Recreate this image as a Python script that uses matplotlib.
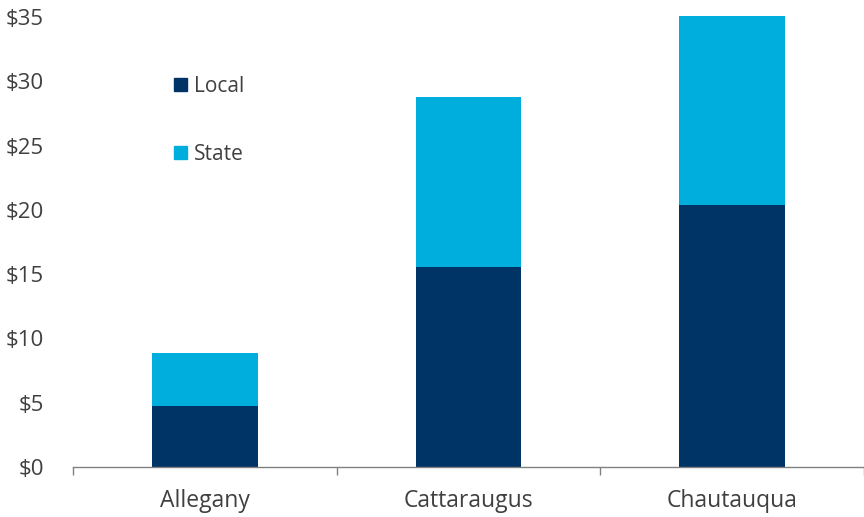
import matplotlib
matplotlib.use("Agg")
import matplotlib.pyplot as plt
from matplotlib.patches import Patch

categories = ["Allegany", "Cattaraugus", "Chautauqua"]
local = [4.75, 15.55, 20.4]
state = [4.1, 13.2, 14.7]
yticks = [0, 5, 10, 15, 20, 25, 30, 35]
ytick_labels = ["$0", "$5", "$10", "$15", "$20", "$25", "$30", "$35"]

plt.rcParams['font.family'] = ['Open Sans', 'DejaVu Sans']
txt = '#404040'
c_local = '#003366'
c_state = '#00AEDE'

fig = plt.figure(figsize=(8.64, 5.17), dpi=100)
ax = fig.add_axes([0.0845, 0.0967, 0.9155, 0.8705])

x = list(range(len(categories)))
ax.bar(x, local, width=0.4, color=c_local, clip_on=False)
ax.bar(x, state, width=0.4, bottom=local, color=c_state, clip_on=False)

ax.set_xlim(-0.5, 2.5)
ax.set_ylim(0, 35)
ax.set_yticks(yticks)
ax.set_yticklabels(ytick_labels, color=txt, fontsize=16)
ax.tick_params(axis='y', length=0, pad=21)
ax.set_xticks(x)
ax.set_xticklabels(categories, color=txt, fontsize=16.5)
ax.tick_params(axis='x', length=0, pad=16)
ax.set_xticks([-0.5, 0.5, 1.5, 2.5], minor=True)
ax.tick_params(axis='x', which='minor', length=6, color='#808080', width=1)

for s in ['top', 'right', 'left']:
    ax.spines[s].set_visible(False)
ax.spines['bottom'].set_color('#808080')
ax.spines['bottom'].set_linewidth(1)

handles = [Patch(color=c_local, label='Local'), Patch(color=c_state, label='State')]
leg = ax.legend(handles=handles, loc='upper left', bbox_to_anchor=(0.104, 0.91),
                frameon=False, fontsize=15, labelspacing=2.25,
                handlelength=0.6, handleheight=0.6, handletextpad=0.35)
for t in leg.get_texts():
    t.set_color(txt)

fig.savefig('out.png', dpi=100)
